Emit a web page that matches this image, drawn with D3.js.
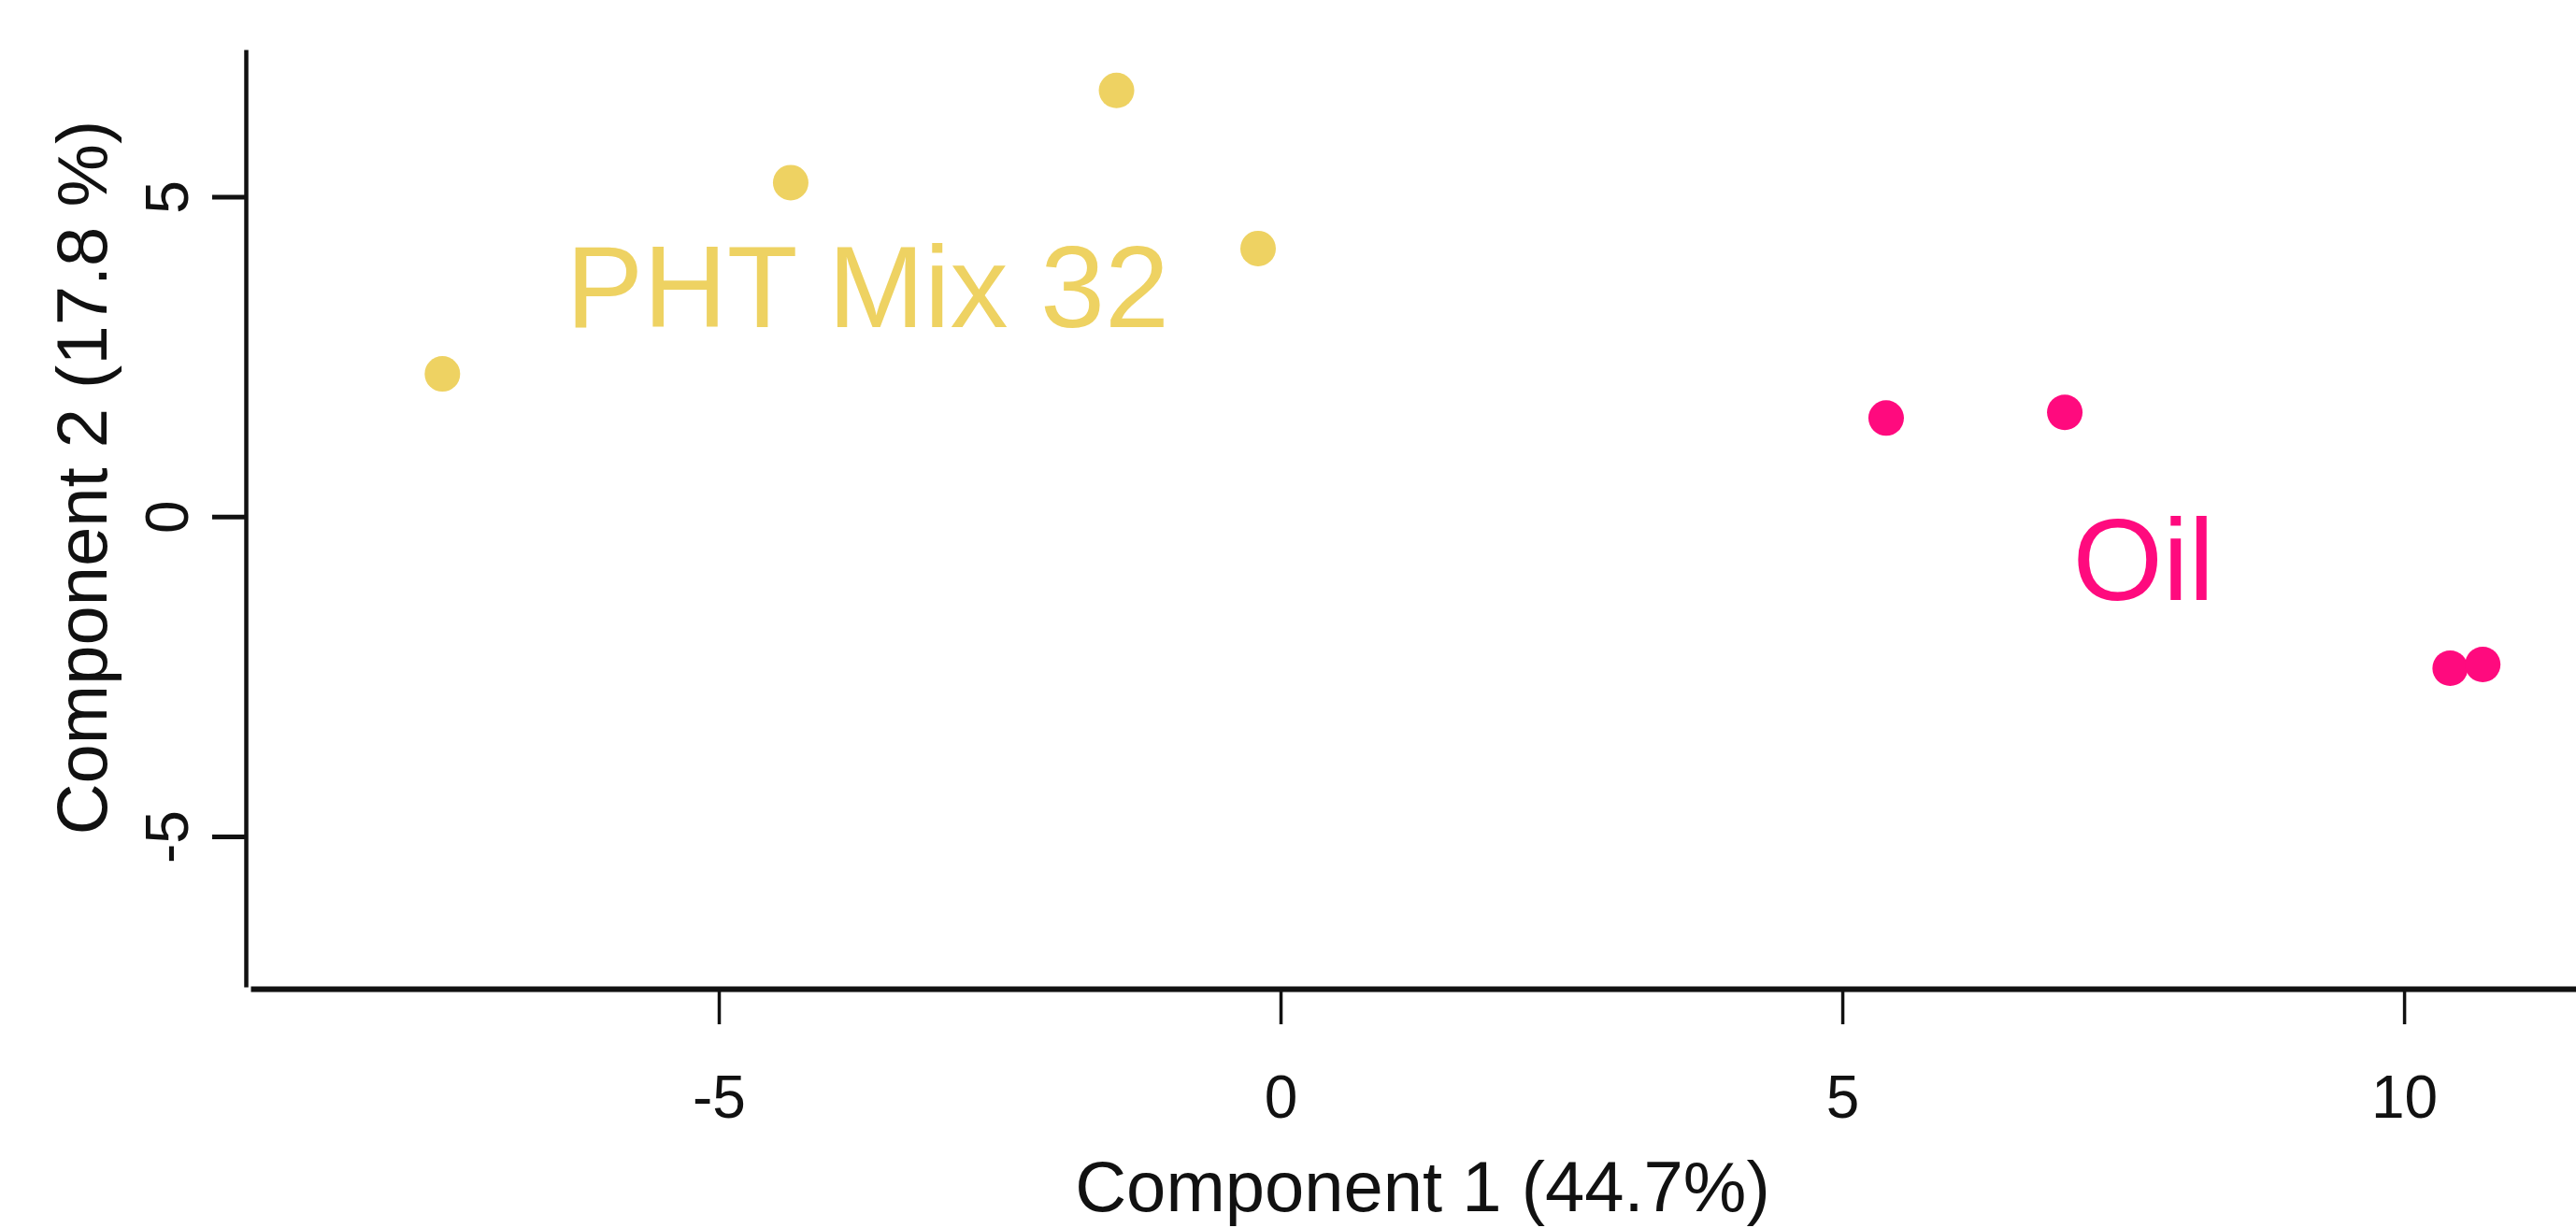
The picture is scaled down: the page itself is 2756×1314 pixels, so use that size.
<!DOCTYPE html>
<html>
<head>
<meta charset="utf-8">
<script src="https://cdn.jsdelivr.net/npm/d3@7"></script>
<style>
  html, body { margin: 0; padding: 0; background: #fff; }
  svg { display: block; }
  text { font-family: "Liberation Sans", Arial, Helvetica, sans-serif; }
</style>
</head>
<body>
<svg id="chart" width="2756" height="1314"></svg>
<script>
// ---- data ----
const groups = ["PHT Mix 32", "Oil"];
const groupColors = ["#EED262", "#FF0A7E"];
const pc1PHT = [-7.46, -4.36, -1.46, -0.20];
const pc2PHT = [2.23, 5.22, 6.66, 4.19];
const pc1Oil = [5.39, 6.98, 10.41, 10.70];
const pc2Oil = [1.54, 1.63, -2.37, -2.31];
const xTicks = [-5, 0, 5, 10];
const yTicks = [-5, 0, 5];
const xTitle = "Component 1 (44.7%)";
const yTitle = "Component 2 (17.8 %)";
// label anchor positions in data units
const labelX = [-6.36, 7.05];
const labelY = [2.96, -1.3];

const svg = d3.select("#chart");

const x = d3.scaleLinear().domain([-9.168, 11.53]).range([268, 2756]);
const y = d3.scaleLinear().domain([-7.35, 7.3]).range([1056, 53]);
const fmt = d => String(d);

// x axis
const gx = svg.append("g").attr("transform", "translate(0,1058)")
  .call(d3.axisBottom(x).tickValues(xTicks).tickSize(38).tickSizeOuter(0)
    .tickFormat(fmt));
gx.select(".domain").attr("stroke", "#111").attr("stroke-width", 6);
gx.selectAll(".tick line").attr("stroke", "#111").attr("stroke-width", 3.5);
gx.selectAll(".tick text").attr("font-size", 64).attr("fill", "#111")
  .attr("dy", null).attr("y", 138).attr("font-family", '"Liberation Sans", Arial, sans-serif');

// y axis
const gy = svg.append("g").attr("transform", "translate(263,0)")
  .call(d3.axisLeft(y).tickValues(yTicks).tickSize(36).tickSizeOuter(0)
    .tickFormat(fmt));
gy.select(".domain").attr("stroke", "#111").attr("stroke-width", 4.5);
gy.selectAll(".tick line").attr("stroke", "#111").attr("stroke-width", 5);
gy.selectAll(".tick text").remove();
gy.selectAll(".tick").append("text")
  .attr("transform", "translate(-62,0) rotate(-90)")
  .attr("text-anchor", "middle")
  .attr("font-size", 64).attr("fill", "#111")
  .attr("font-family", '"Liberation Sans", Arial, sans-serif')
  .text(fmt);

// titles
svg.append("text").attr("x", 1522).attr("y", 1296)
  .attr("text-anchor", "middle").attr("font-size", 76).attr("fill", "#111")
  .text(xTitle);
svg.append("text").attr("transform", "translate(114,511) rotate(-90)")
  .attr("text-anchor", "middle").attr("font-size", 76).attr("fill", "#111")
  .text(yTitle);

// points
const series = [
  { xs: pc1PHT, ys: pc2PHT, color: groupColors[0] },
  { xs: pc1Oil, ys: pc2Oil, color: groupColors[1] }
];
series.forEach(s => {
  svg.append("g").selectAll("circle")
    .data(s.xs.map((v, i) => [v, s.ys[i]]))
    .join("circle")
    .attr("cx", d => x(d[0]))
    .attr("cy", d => y(d[1]))
    .attr("r", 19)
    .attr("fill", s.color);
});

// group labels
svg.append("g").selectAll("text")
  .data(groups)
  .join("text")
  .attr("x", (d, i) => x(labelX[i]))
  .attr("y", (d, i) => y(labelY[i]))
  .attr("font-size", 124)
  .attr("fill", (d, i) => groupColors[i])
  .text(d => d);
</script>
</body>
</html>
